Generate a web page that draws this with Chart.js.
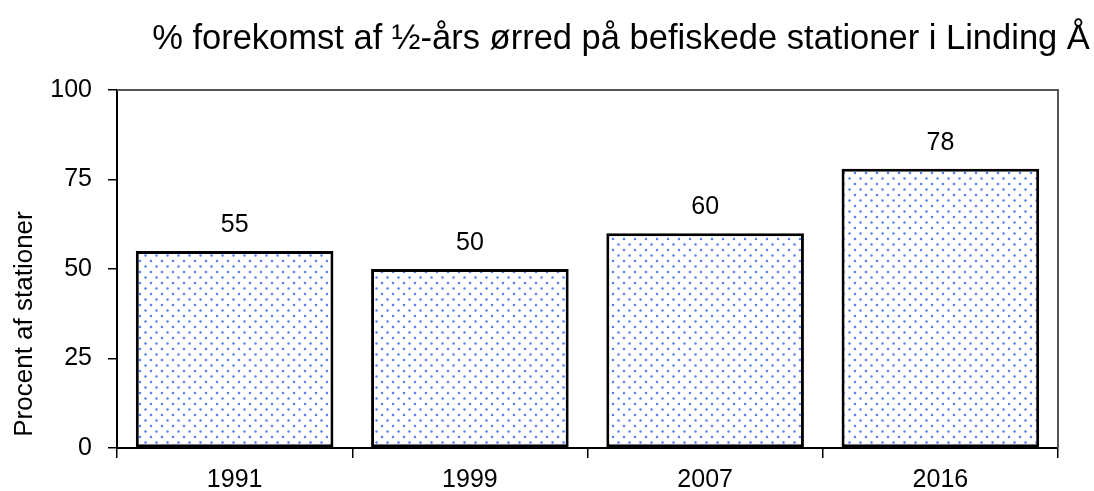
<!DOCTYPE html>
<html>
<head>
<meta charset="utf-8">
<script src="https://cdn.jsdelivr.net/npm/chart.js@4"></script>
<style>
  html, body { margin: 0; padding: 0; background: #fff; }
  #wrap { width: 1094px; height: 491px; }
</style>
</head>
<body>
<div id="wrap"><canvas id="chart" width="1094" height="491"></canvas></div>
<script>
// data
const years = ["1991", "1999", "2007", "2016"];
const percent = [55, 50, 60, 78];
const yTicks = [0, 25, 50, 75, 100];

const FONT = "'Liberation Sans', Arial, sans-serif";

// dotted blue fill like the original
function dotPattern() {
  const c = document.createElement("canvas");
  c.width = 11;
  c.height = 11;
  const g = c.getContext("2d");
  g.fillStyle = "#ffffff";
  g.fillRect(0, 0, 11, 11);
  g.fillStyle = "#5a7ff2";
  g.beginPath(); g.arc(2.5, 2.5, 1.25, 0, Math.PI * 2); g.fill();
  g.beginPath(); g.arc(8, 8, 1.25, 0, Math.PI * 2); g.fill();
  return document.getElementById("chart").getContext("2d").createPattern(c, "repeat");
}

// title, axis title, frame and value labels
const extras = {
  id: "extras",
  afterDatasetsDraw(chart) {
    const ctx = chart.ctx;
    const a = chart.chartArea;
    ctx.save();
    ctx.strokeStyle = "#555";
    ctx.lineWidth = 2;
    ctx.beginPath();
    ctx.moveTo(a.left, a.top);
    ctx.lineTo(a.right, a.top);
    ctx.lineTo(a.right, a.bottom);
    ctx.stroke();

    ctx.fillStyle = "#000";
    ctx.font = "25px " + FONT;
    ctx.textAlign = "center";
    ctx.textBaseline = "middle";
    chart.getDatasetMeta(0).data.forEach((bar, i) => {
      ctx.fillText(String(percent[i]), bar.x, bar.y - 26);
    });

    ctx.font = "34.5px " + FONT;
    ctx.fillText("% forekomst af \u00bd-\u00e5rs \u00f8rred p\u00e5 befiskede stationer i Linding \u00c5", 621, 39);

    ctx.translate(25, 324);
    ctx.rotate(-Math.PI / 2);
    ctx.font = "26px " + FONT;
    ctx.fillText("Procent af stationer", 0, 0);
    ctx.restore();
  }
};

new Chart(document.getElementById("chart"), {
  type: "bar",
  data: {
    labels: years,
    datasets: [{
      data: percent,
      backgroundColor: dotPattern(),
      borderColor: "#000",
      borderWidth: 3,
      borderSkipped: false,
      categoryPercentage: 1,
      barPercentage: 0.84
    }]
  },
  options: {
    responsive: false,
    animation: false,
    layout: { padding: { top: 90, right: 36, left: 0, bottom: 0 } },
    plugins: {
      legend: { display: false },
      tooltip: { enabled: false }
    },
    scales: {
      x: {
        grid: { offset: true, drawOnChartArea: false, tickLength: 10, color: "#000", lineWidth: 1.5 },
        border: { color: "#000", width: 2 },
        ticks: { color: "#000", font: { family: FONT, size: 25 }, padding: 7 },
        afterFit(s) { s.height = 43; }
      },
      y: {
        min: 0,
        max: 100,
        afterBuildTicks(s) { s.ticks = yTicks.map(v => ({ value: v })); },
        grid: { drawOnChartArea: false, tickLength: 9, color: "#000", lineWidth: 1.5 },
        border: { color: "#000", width: 2 },
        ticks: { color: "#000", font: { family: FONT, size: 25 }, padding: 16 },
        afterFit(s) { s.width = 117; }
      }
    }
  },
  plugins: [extras]
});
</script>
</body>
</html>
